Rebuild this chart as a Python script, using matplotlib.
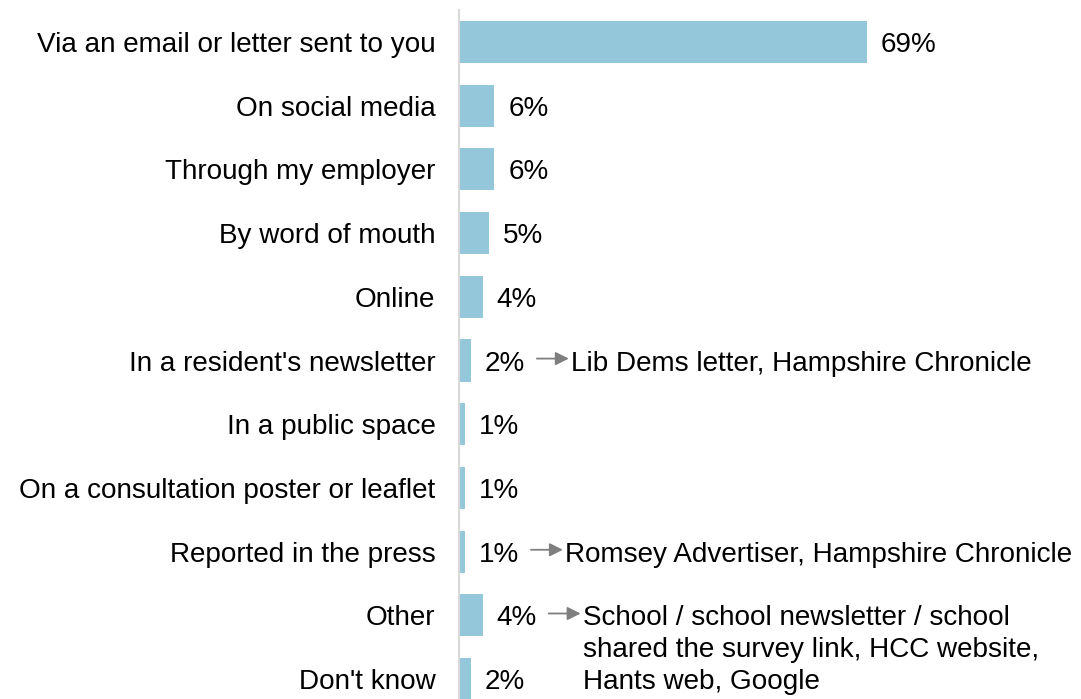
import matplotlib.pyplot as plt

plt.rcParams['font.family'] = ['Liberation Sans', 'DejaVu Sans']

# Survey answers: how did you hear about the consultation
categories = ["Via an email or letter sent to you", "On social media",
              "Through my employer", "By word of mouth", "Online",
              "In a resident's newsletter", "In a public space",
              "On a consultation poster or leaflet", "Reported in the press",
              "Other", "Don't know"]
values = [69, 6, 6, 5, 4, 2, 1, 1, 1, 4, 2]
notes = {5: "Lib Dems letter, Hampshire Chronicle",
         8: "Romsey Advertiser, Hampshire Chronicle",
         9: "School / school newsletter / school\nshared the survey link, HCC website,\nHants web, Google"}

FS = 20.1
fig = plt.figure(figsize=(10.81, 6.99), dpi=100)
ax = fig.add_axes([459 / 1081, -12 / 699, 1 - 459 / 1081, 701 / 699])

pos = list(range(len(categories)))
ax.barh(pos, values, height=0.66, color='#95c7da')
ax.set_ylim(len(categories) - 0.5, -0.5)
ax.set_xlim(0, 105.2)

ax.set_yticks(pos)
ax.set_yticklabels(categories, fontsize=FS)
ax.tick_params(axis='y', length=0, pad=17)
ax.set_xticks([])
for s in ['top', 'right', 'bottom']:
    ax.spines[s].set_visible(False)
ax.spines['left'].set_color('#d9d9d9')
ax.spines['left'].set_linewidth(1.5)

px = 72 / 100  # points per pixel
xpp = 69 / 408  # data units per pixel
for i, v in enumerate(values):
    ax.annotate(f"{v}%", (v, i), xytext=(14 * px, 0), textcoords='offset points',
                va='center_baseline', ha='left', fontsize=FS)
    if i in notes:
        # arrow from +66px to +98px beyond the bar end
        ax.annotate("", xy=(v + 98 * xpp, i - 0.03), xytext=(v + 66 * xpp, i - 0.03),
                    arrowprops=dict(arrowstyle='-|>', color='#7f7f7f', lw=1.3,
                                    mutation_scale=20, shrinkA=0, shrinkB=0))
        if '\n' in notes[i]:
            ax.annotate(notes[i], (v, i), xytext=(100 * px, 10 * px),
                        textcoords='offset points', va='top', ha='left',
                        fontsize=FS, linespacing=1.3, annotation_clip=False)
        else:
            ax.annotate(notes[i], (v, i), xytext=(100 * px, 0),
                        textcoords='offset points', va='center_baseline', ha='left',
                        fontsize=FS)

fig.savefig("out.png", dpi=100)
